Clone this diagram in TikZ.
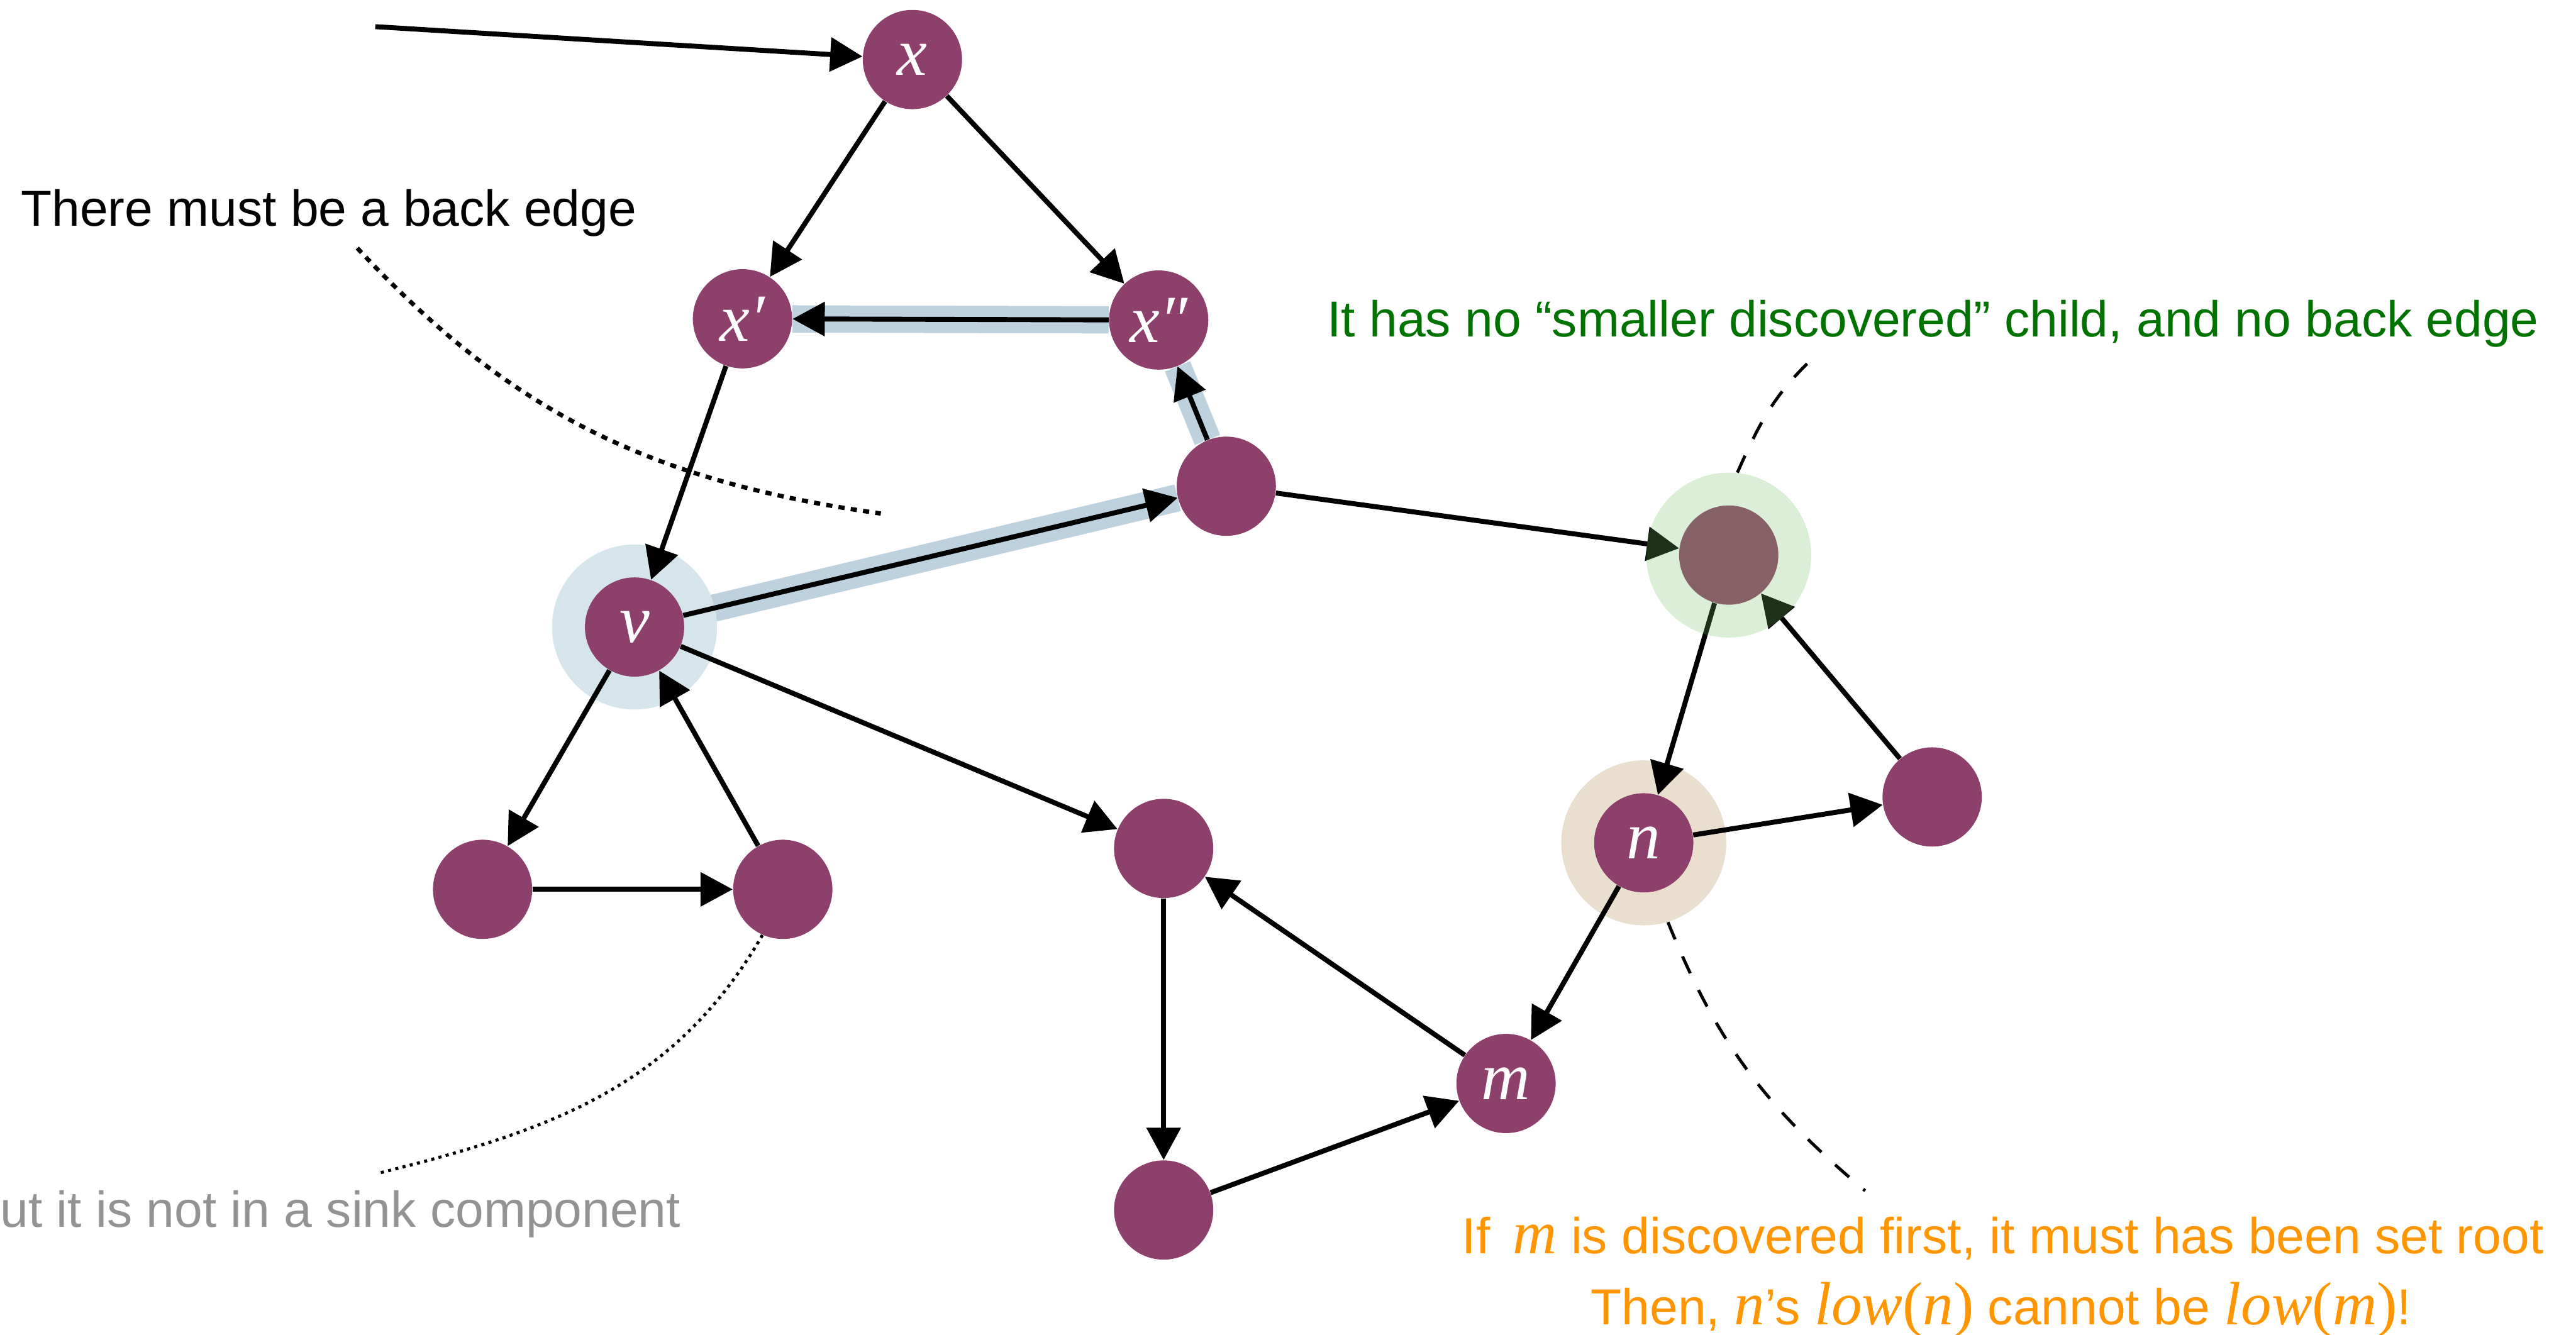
\documentclass[tikz,border=0pt]{standalone}
\usepackage{fontspec}
\setmainfont{Liberation Sans}
\newfontfamily\tms{Liberation Serif}
\usetikzlibrary{arrows.meta,backgrounds}

\definecolor{vertex}{RGB}{142,64,108}
\definecolor{pathband}{RGB}{189,209,222}
\definecolor{bluehalo}{RGB}{214,228,236}
\definecolor{tanhalo}{RGB}{234,223,207}
\definecolor{greenhalo}{RGB}{115,192,96}
\definecolor{notegreen}{RGB}{0,114,0}
\definecolor{noteorange}{RGB}{255,149,0}
\definecolor{notegray}{RGB}{147,147,147}

% italic and upright serif pieces inside the sans notes
\newcommand{\mv}[1]{{\tms\itshape\fontsize{28}{28}\selectfont #1}}
\newcommand{\mr}[1]{{\tms\fontsize{28}{28}\selectfont #1}}

\begin{document}
\begin{tikzpicture}[->,>={Triangle[length=0.52cm,width=0.54cm]},
  every edge/.append style={line width=0.08cm},
  vertex node/.style={circle,fill=vertex,minimum size=1.6cm,inner sep=0pt,text=white,font=\tms\itshape\fontsize{31}{31}\selectfont},
  halo/.style={circle,minimum size=2.66cm,inner sep=0pt},
  band/.style={-,line width=0.44cm,draw=pathband},
  note/.style={font=\fontsize{23.2}{28}\selectfont,inner sep=0pt},
  callout/.style={-,line width=0.05cm,dash pattern=on 0.3cm off 0.3cm}]

    \useasboundingbox (0,0) rectangle (41.53,21.52);

    \node[vertex node] (x)   at (14.71,20.56) {x};
    \node[vertex node] (x1)  at (11.97,16.38) {x′};
    \node[vertex node] (x2)  at (18.68,16.36) {x″};
    \node[vertex node] (a)   at (19.77,13.68) {};
    \node[vertex node] (v)   at (10.23,11.41) {v};
    \node[vertex node] (lb)  at (7.78,7.18) {};
    \node[vertex node] (lb2) at (12.62,7.18) {};
    \node[vertex node] (c)   at (18.76,7.84) {};
    \node[vertex node] (d)   at (18.76,2.01) {};
    \node[vertex node] (m)   at (24.28,4.05) {m};
    \node[vertex node] (g)   at (27.87,12.57) {};
    \node[vertex node] (n)   at (26.50,7.93) {n};
    \node[vertex node] (r)   at (31.15,8.67) {};
    \coordinate (in) at (6.05,21.09);

    % highlighted path and halos go underneath
    \begin{pgfonlayer}{background}
        \draw[band] (v) -- (a);
        \draw[band] (a) -- (x2);
        \draw[band] (x2) -- (x1);
        \node[halo,fill=bluehalo] (vh) at (v) {};
        \node[halo,fill=tanhalo] (nh) at (n) {};
    \end{pgfonlayer}

    \path (in) edge (x)
        (x) edge (x1)
            edge (x2)
        (x2) edge (x1)
        (x1) edge (v)
        (v) edge (a)
            edge (lb)
            edge (c)
        (a) edge (x2)
            edge (g)
        (lb) edge (lb2)
        (lb2) edge (v)
        (c) edge (d)
        (d) edge (m)
        (m) edge (c)
        (g) edge (n)
        (n) edge (r)
            edge (m)
        (r) edge (g);

    \node[halo,fill=greenhalo,fill opacity=0.26] (gh) at (g) {};

    % notes and their pointers
    \node[note,anchor=base west] (backnote) at (0.33,17.87) {There must be a back edge};
    \node[note,anchor=base east,text=notegray] (sinknote) at (10.98,1.73) {ut it is not in a sink component};
    \node[note,anchor=base west,text=notegreen] (greennote) at (21.39,16.09) {It has no “smaller discovered” child, and no back edge};
    \node[note,anchor=base,text=noteorange] (rootnote) at (32.29,1.31) {If\hspace{0.45em}\mv{m} is discovered first, it must has been set root};
    \node[note,anchor=base,text=noteorange] (lownote) at (32.26,0.16) {Then, \mv{n}’s \mv{low}\mr{(}\mv{n}\mr{)} cannot be \mv{low}\mr{(}\mv{m}\mr{)}!};

    \coordinate (b1) at (5.76,17.52);
    \coordinate (b2) at (14.20,13.24);
    \coordinate (s1) at (6.09,2.60);
    \coordinate (g1) at (29.18,15.70);
    \coordinate (n1) at (30.07,2.32);
    \draw[-,line width=0.07cm,dash pattern=on 0.1cm off 0.1cm] (b1) to[out=-47,in=172] (b2);
    \draw[-,line width=0.05cm,dash pattern=on 0.05cm off 0.07cm] (lb2.-114) to[out=-120,in=14] (s1);
    \draw[callout] (gh.84) to[out=66,in=-136] (g1);
    \draw[callout] (nh.-73) to[out=-68,in=140] (n1);
\end{tikzpicture}
\end{document}
